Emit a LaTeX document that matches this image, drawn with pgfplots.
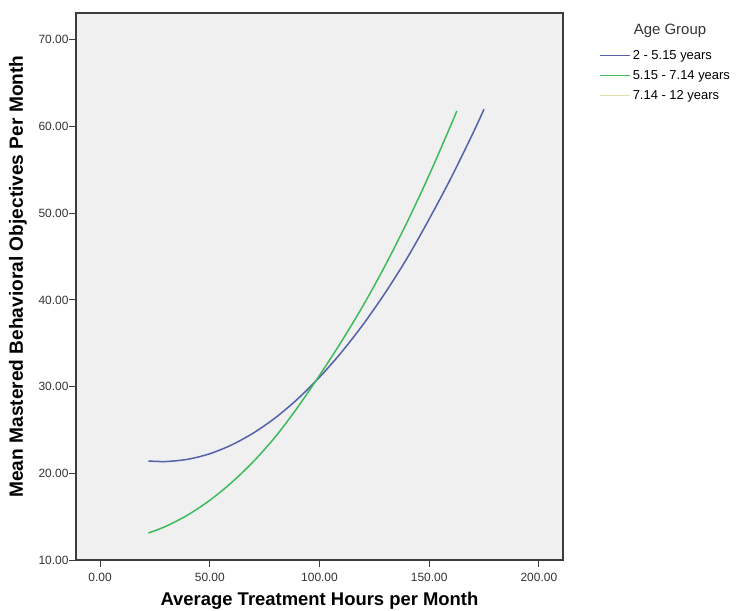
\documentclass[border=0pt]{standalone}
\usepackage{fontspec}
\setmainfont{Liberation Sans}
\usepackage{pgfplots}
\pgfplotsset{compat=1.18}
\definecolor{spssblue}{RGB}{84,96,170}
\definecolor{spssgreen}{RGB}{62,186,92}
\definecolor{spsspale}{RGB}{226,226,168}
\definecolor{plotbg}{RGB}{240,240,240}
\definecolor{framec}{RGB}{60,60,60}

\begin{document}
\begin{tikzpicture}
\path[use as bounding box] (0bp,0bp) rectangle (744bp,611bp);
\begin{axis}[
  at={(76bp,51bp)}, anchor=south west,
  scale only axis, width=487bp, height=547bp,
  xmin=-11, xmax=211, ymin=10, ymax=73.1,
  xtick={0,50,100,150,200}, ytick={10,20,30,40,50,60,70},
  xtick pos=bottom, ytick pos=left,
  tick align=outside, major tick length=7bp,
  axis line style={framec, line width=1.1pt},
  tick style={framec, line width=0.9pt},
  axis background/.style={fill=plotbg},
  ticklabel style={font=\fontsize{12}{14}\selectfont, text=black!80},
  xticklabel style={yshift=-3bp},
  yticklabel style={xshift=3bp},
  /pgf/number format/.cd, fixed, fixed zerofill, precision=2, assume math mode=true,
  /pgfplots/.cd,
  xlabel={Average Treatment Hours per Month},
  ylabel={Mean Mastered Behavioral Objectives Per Month},
  xlabel style={font=\fontsize{18.5}{21}\bfseries, at={(rel axis cs:0.5,0)}, anchor=center, yshift=-41bp},
  ylabel style={font=\fontsize{19.2}{22}\bfseries, at={(rel axis cs:0,0.518)}, anchor=center, yshift=58bp},
  legend style={at={(rel axis cs:1.072,0.945)}, anchor=north west, yshift=-4bp,
    draw=white, fill=white, inner sep=1bp,
    font=\fontsize{13}{15}\selectfont, row sep=5.5bp},
  legend cell align=left,
  legend image code/.code={\draw[#1] (0bp,0bp) -- (30bp,0bp);},
]
\addplot[color=spssblue, line width=1.5pt, smooth] coordinates {
  (22,21.42) (30,21.36) (40,21.62) (50,22.26) (60,23.28) (70,24.67)
  (80,26.43) (90,28.57) (100,31.08) (110,33.96) (120,37.21) (130,40.84)
  (140,44.85) (150,49.33) (160,54.10) (170,59.26) (175,62.0)};
\addlegendentry{2 - 5.15 years}
\addplot[color=spssgreen, line width=1.5pt, smooth] coordinates {
  (22,13.11) (30,13.89) (40,15.20) (50,16.89) (60,18.95) (70,21.39)
  (80,24.25) (90,27.6) (100,31.3) (110,35.2) (120,39.4) (130,44.0)
  (140,49.0) (150,54.41) (160,60.23) (162.6,61.80)};
\addlegendentry{5.15 - 7.14 years}
\addlegendimage{color=spsspale, line width=1.5pt}
\addlegendentry{7.14 - 12 years}
\end{axis}
\node[font=\fontsize{15}{17}\selectfont, text=black!80] at (670bp,580bp) {Age Group};
\end{tikzpicture}
\end{document}
